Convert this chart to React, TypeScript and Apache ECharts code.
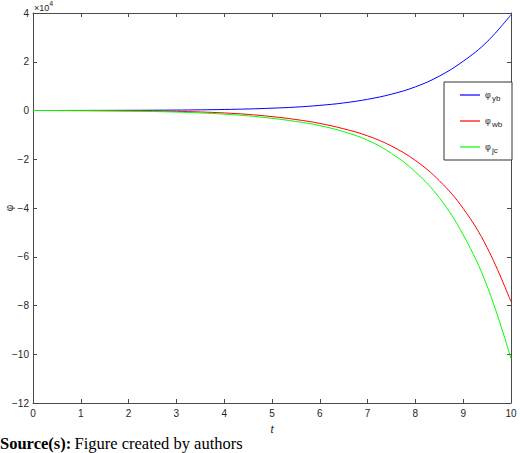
import React, { useEffect, useRef } from "react";
import * as echarts from "echarts";

// time axis values
const tValues = [0, 0.5, 1, 1.5, 2, 2.5, 3, 3.5, 4, 4.5, 5, 5.5, 6, 6.5, 7, 7.5, 8, 8.5, 9, 9.5, 10];
// values in units of 10^4
const phiYb = [0, 0.001, 0.003, 0.005, 0.008, 0.012, 0.018, 0.028, 0.042, 0.063, 0.095, 0.14, 0.21, 0.31, 0.46, 0.67, 0.97, 1.41, 2.02, 2.82, 3.93];
const phiWb = [0, -0.002, -0.004, -0.007, -0.012, -0.02, -0.035, -0.06, -0.1, -0.16, -0.25, -0.37, -0.53, -0.75, -1.04, -1.46, -2.05, -2.88, -4.02, -5.62, -7.85];
const phiJc = [0, -0.003, -0.008, -0.015, -0.026, -0.042, -0.065, -0.1, -0.15, -0.22, -0.32, -0.45, -0.62, -0.87, -1.22, -1.76, -2.52, -3.58, -5.1, -7.2, -10.18];

const seriesNames = ["yb", "wb", "jc"];
const seriesValues = [phiYb, phiWb, phiJc];
const seriesColors = ["#0000ff", "#ff0000", "#00ff00"];

const X_MIN = 0, X_MAX = 10, X_STEP = 1;
const Y_MIN = -12, Y_MAX = 4, Y_STEP = 2;

const AX = "#4a4a4a";
const LABEL = "#262626";
const SANS = "'Liberation Sans', Arial, Helvetica, sans-serif";
const SERIF = "'Liberation Serif', 'Times New Roman', serif";

export default function App() {
  const ref = useRef<HTMLDivElement>(null);
  useEffect(() => {
    document.body.style.margin = "0";
    if (!ref.current) return;
    const chart = echarts.init(ref.current, undefined, { renderer: "svg" });
    const fmtY = (v: number) => (v < 0 ? "\u2212" + Math.abs(v) : String(v));
    const axisCommon = {
      axisLine: { show: true, onZero: false, lineStyle: { color: AX, width: 1 } },
      axisTick: { show: true, inside: true, length: 4, lineStyle: { color: AX, width: 1 } },
      splitLine: { show: false },
    };
    chart.setOption({
      animation: false,
      backgroundColor: "#ffffff",
      grid: { left: 33, right: 9, top: 13, bottom: 50, containLabel: false, outerBoundsMode: "none" },
      xAxis: [
        {
          type: "value", min: X_MIN, max: X_MAX, interval: X_STEP, position: "bottom",
          ...axisCommon,
          axisLabel: { color: LABEL, fontSize: 10, fontFamily: SANS, margin: 5 },
          name: "t", nameLocation: "middle", nameGap: 20,
          nameTextStyle: { color: LABEL, fontSize: 11, fontStyle: "italic", fontFamily: SANS },
        },
        {
          type: "value", min: X_MIN, max: X_MAX, interval: X_STEP, position: "top",
          ...axisCommon,
          axisLabel: { show: false },
        },
      ],
      yAxis: [
        {
          type: "value", min: Y_MIN, max: Y_MAX, interval: Y_STEP, position: "left",
          ...axisCommon,
          axisLabel: { color: LABEL, fontSize: 10, fontFamily: SANS, margin: 4, formatter: fmtY },
        },
        {
          type: "value", min: Y_MIN, max: Y_MAX, interval: Y_STEP, position: "right",
          ...axisCommon,
          axisLabel: { show: false },
        },
      ],
      legend: {
        show: true,
        orient: "vertical",
        left: 444,
        top: 82,
        padding: [6, 6, 6, 16],
        itemGap: 12,
        itemWidth: 20,
        itemHeight: 1.2,
        icon: "rect",
        borderColor: "#333333",
        borderWidth: 1,
        borderRadius: 0,
        backgroundColor: "#ffffff",
        data: seriesNames,
        formatter: (name: string) => `{p|φ}{s|${name}}`,
        textStyle: {
          color: LABEL,
          fontFamily: SANS,
          rich: {
            p: { fontSize: 9, lineHeight: 10, width: 7, verticalAlign: "top", fontFamily: SANS, color: LABEL },
            s: { fontSize: 8, lineHeight: 10, width: 14, padding: [6, 0, 0, 0], fontFamily: SANS, color: LABEL },
          },
        },
      },
      series: seriesNames.map((name, i) => ({
        name,
        type: "line",
        xAxisIndex: 0,
        yAxisIndex: 0,
        data: tValues.map((t, j) => [t, seriesValues[i][j]]),
        symbol: "none",
        showSymbol: false,
        smooth: 0.4,
        color: seriesColors[i],
        lineStyle: { color: seriesColors[i], width: 1 },
        z: 2 + i,
      })),
      graphic: [
        {
          type: "text",
          x: 9,
          y: 208,
          rotation: Math.PI / 2,
          style: {
            text: "φ",
            fontSize: 10,
            fontFamily: SANS,
            fill: LABEL,
            align: "center",
            verticalAlign: "middle",
          },
        },
        {
          type: "text",
          left: 34,
          top: 0,
          style: {
            text: "{a|×10}{b|4}",
            rich: {
              a: { fontSize: 9, fontFamily: SANS, fill: LABEL, padding: [4, 0, 0, 0] },
              b: { fontSize: 7, fontFamily: SANS, fill: LABEL, padding: [0, 0, 4, 0] },
            },
          },
        },
        {
          type: "text",
          left: 0,
          top: 435,
          style: {
            text: "{b|Source(s):} {n|Figure created by authors}",
            rich: {
              b: { fontSize: 16.5, fontWeight: "bold", fontFamily: SERIF, fill: "#000" },
              n: { fontSize: 16.5, fontFamily: SERIF, fill: "#000" },
            },
          },
        },
      ],
    });
    return () => chart.dispose();
  }, []);
  return <div ref={ref} style={{ width: 520, height: 453 }} />;
}
